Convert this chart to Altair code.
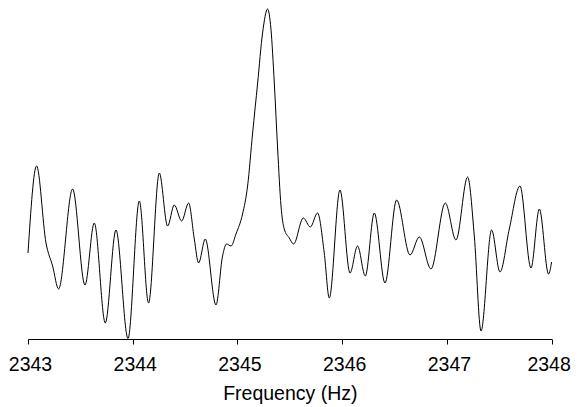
import altair as alt
import pandas as pd

# Frequency (Hz) and spectrum amplitude (arbitrary units)
freq = [2343.000, 2343.082, 2343.172, 2343.235, 2343.292, 2343.426, 2343.544, 2343.633,
        2343.738, 2343.840, 2343.955, 2344.063, 2344.151, 2344.254, 2344.333, 2344.397,
        2344.467, 2344.534, 2344.588, 2344.629, 2344.693, 2344.795, 2344.858, 2344.896,
        2344.939, 2344.986, 2345.049, 2345.097, 2345.145, 2345.193, 2345.240, 2345.288,
        2345.320, 2345.352, 2345.384, 2345.416, 2345.447, 2345.495, 2345.536, 2345.629,
        2345.696, 2345.765, 2345.829, 2345.877, 2345.979, 2346.075, 2346.147, 2346.221,
        2346.307, 2346.409, 2346.520, 2346.648, 2346.737, 2346.848, 2346.985, 2347.087,
        2347.198, 2347.262, 2347.326, 2347.427, 2347.507, 2347.596, 2347.698, 2347.803,
        2347.883, 2347.971, 2348.000]
amp = [86, 173, 96, 73, 50, 150, 54, 116,
       16, 109, 0.5, 138, 36, 166, 113, 134,
       118, 136, 100, 76, 100, 34, 83, 95,
       93, 105, 125, 153, 206, 256, 306, 330,
       310, 256, 190, 133, 110, 101, 95, 121,
       112, 126, 86, 41, 149, 66, 93, 63,
       126, 56, 139, 84, 102, 70, 136, 99,
       162, 103, 8, 109, 67, 110, 153, 71,
       130, 65, 77]

tick_values = [2343, 2344, 2345, 2346, 2347, 2348]

df = pd.DataFrame({"freq": freq, "amp": amp})

FONT = "Liberation Sans"

chart = alt.Chart(df).mark_line(
    color="black", strokeWidth=1, interpolate="monotone"
).encode(
    x=alt.X("freq:Q",
            scale=alt.Scale(domain=[2343, 2348], nice=False, zero=False),
            axis=alt.Axis(
                values=tick_values,
                format="d", grid=False, title="Frequency (Hz)",
                domainColor="black", domainWidth=1,
                tickColor="black", tickSize=5, tickWidth=1,
                labelFont=FONT, labelFontSize=19.5, labelColor="black",
                labelPadding=12,
                labelOffset=alt.expr("datum.value >= 2348 ? -3 : 2"),
                labelOverlap=False, labelFlush=False,
                titleFont=FONT, titleFontSize=19.5, titleFontWeight="normal",
                titleColor="black", titleBaseline="alphabetic", titleY=60.5,
            )),
    y=alt.Y("amp:Q", scale=alt.Scale(domain=[0, 331], nice=False, zero=False), axis=None),
).properties(
    width=523.6, height=331,
    autosize=alt.AutoSizeParams(type="none"),
    padding={"left": 20, "top": 0, "right": 19, "bottom": 68},
).configure_view(stroke=None)

chart.save("out.html", embed_options={"renderer": "svg", "actions": False})
